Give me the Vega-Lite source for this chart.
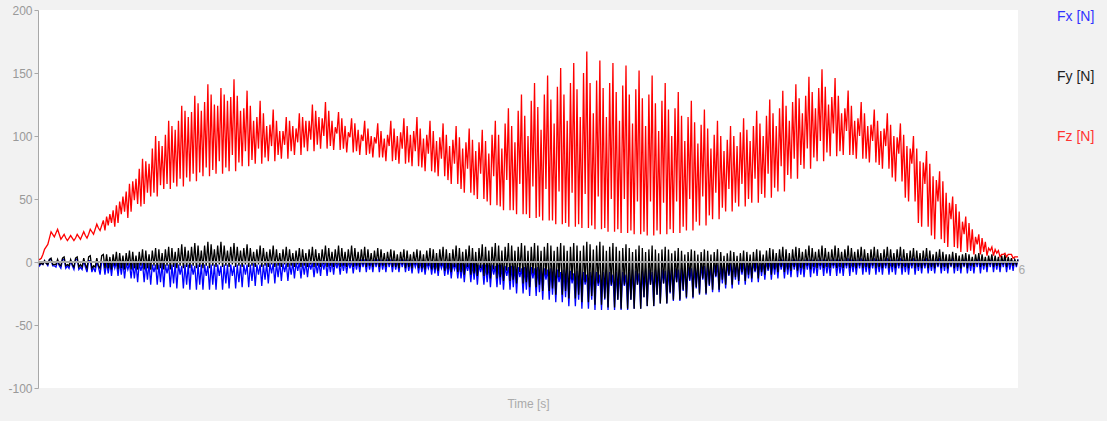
{
"$schema": "https://vega.github.io/schema/vega-lite/v6.json",
"width": 980, "height": 378,
"autosize": {"type": "none"},
"padding": {"left": 38, "top": 10, "right": 89, "bottom": 33},
"background": "#f2f2f2",
"config": {"view": {"fill": "white", "stroke": null}, "font": "Liberation Sans"},
"data": {"values": [
{"t":0,"fz":2,"fx":0,"fy":0},{"t":0.01,"fz":2,"fx":-3,"fy":-2},{"t":0.02,"fz":3,"fx":-1,"fy":-1},{"t":0.03,"fz":6,"fx":-2,"fy":-2},{"t":0.04,"fz":10,"fx":1,"fy":1},{"t":0.05,"fz":12,"fx":-1,"fy":-1},{"t":0.06,"fz":14,"fx":-3,"fy":-2},{"t":0.07,"fz":19,"fx":2,"fy":2},
{"t":0.08,"fz":24,"fx":2,"fy":3},{"t":0.09,"fz":22,"fx":-3,"fy":-2},{"t":0.1,"fz":20,"fx":-3,"fy":-2},{"t":0.11,"fz":23,"fx":-4,"fy":-2},{"t":0.12,"fz":26,"fx":1,"fy":2},{"t":0.13,"fz":22,"fx":-3,"fy":-2},{"t":0.14,"fz":18,"fx":-5,"fy":-3},{"t":0.15,"fz":20,"fx":2,"fy":3},
{"t":0.16,"fz":22,"fx":2,"fy":4},{"t":0.17,"fz":19,"fx":-5,"fy":-3},{"t":0.18,"fz":17,"fx":-3,"fy":-2},{"t":0.19,"fz":19,"fx":-5,"fy":-3},{"t":0.2,"fz":21,"fx":1,"fy":2},{"t":0.21,"fz":19,"fx":-3,"fy":-2},{"t":0.22,"fz":17,"fx":-6,"fy":-4},{"t":0.23,"fz":19,"fx":2,"fy":3},
{"t":0.24,"fz":22,"fx":2,"fy":4},{"t":0.25,"fz":20,"fx":-6,"fy":-4},{"t":0.26,"fz":18,"fx":-4,"fy":-2},{"t":0.27,"fz":21,"fx":-6,"fy":-4},{"t":0.28,"fz":24,"fx":1,"fy":3},{"t":0.29,"fz":21,"fx":-4,"fy":-2},{"t":0.3,"fz":19,"fx":-8,"fy":-5},{"t":0.31,"fz":22,"fx":1,"fy":4},
{"t":0.32,"fz":26,"fx":1,"fy":5},{"t":0.33,"fz":24,"fx":-8,"fy":-5},{"t":0.34,"fz":22,"fx":-4,"fy":-3},{"t":0.35,"fz":26,"fx":-8,"fy":-4},{"t":0.36,"fz":30,"fx":0,"fy":3},{"t":0.37,"fz":27,"fx":-4,"fy":-3},{"t":0.38,"fz":25,"fx":-10,"fy":-5},{"t":0.39,"fz":29,"fx":0,"fy":5},
{"t":0.4,"fz":33,"fx":0,"fy":6},{"t":0.41,"fz":25,"fx":-10,"fy":-5},{"t":0.42,"fz":36,"fx":0,"fy":6},{"t":0.43,"fz":29,"fx":-9,"fy":-5},{"t":0.44,"fz":38,"fx":0,"fy":4},{"t":0.45,"fz":31,"fx":-11,"fy":-6},{"t":0.46,"fz":41,"fx":0,"fy":6},{"t":0.47,"fz":28,"fx":-5,"fy":-3},
{"t":0.48,"fz":45,"fx":0,"fy":8},{"t":0.49,"fz":31,"fx":-11,"fy":-6},{"t":0.5,"fz":48,"fx":0,"fy":7},{"t":0.51,"fz":38,"fx":-10,"fy":-5},{"t":0.52,"fz":52,"fx":0,"fy":5},{"t":0.53,"fz":40,"fx":-13,"fy":-6},{"t":0.54,"fz":56,"fx":-1,"fy":7},{"t":0.55,"fz":35,"fx":-6,"fy":-3},
{"t":0.56,"fz":62,"fx":-1,"fy":9},{"t":0.57,"fz":40,"fx":-13,"fy":-6},{"t":0.58,"fz":64,"fx":-1,"fy":8},{"t":0.59,"fz":49,"fx":-13,"fy":-5},{"t":0.6,"fz":66,"fx":-1,"fy":5},{"t":0.61,"fz":46,"fx":-16,"fy":-6},{"t":0.62,"fz":74,"fx":-1,"fy":8},{"t":0.63,"fz":44,"fx":-7,"fy":-3},
{"t":0.64,"fz":82,"fx":-1,"fy":10},{"t":0.65,"fz":46,"fx":-16,"fy":-6},{"t":0.66,"fz":80,"fx":-1,"fy":9},{"t":0.67,"fz":55,"fx":-14,"fy":-5},{"t":0.68,"fz":78,"fx":-1,"fy":6},{"t":0.69,"fz":52,"fx":-18,"fy":-6},{"t":0.7,"fz":90,"fx":-2,"fy":9},{"t":0.71,"fz":55,"fx":-8,"fy":-3},
{"t":0.72,"fz":100,"fx":-2,"fy":11},{"t":0.73,"fz":52,"fx":-18,"fy":-6},{"t":0.74,"fz":96,"fx":-2,"fy":10},{"t":0.75,"fz":61,"fx":-16,"fy":-5},{"t":0.76,"fz":92,"fx":-1,"fy":7},{"t":0.77,"fz":58,"fx":-20,"fy":-6},{"t":0.78,"fz":101,"fx":-2,"fy":10},{"t":0.79,"fz":62,"fx":-9,"fy":-3},
{"t":0.8,"fz":112,"fx":-2,"fy":12},{"t":0.81,"fz":58,"fx":-20,"fy":-6},{"t":0.82,"fz":108,"fx":-2,"fy":11},{"t":0.83,"fz":63,"fx":-17,"fy":-4},{"t":0.84,"fz":105,"fx":-1,"fy":8},{"t":0.85,"fz":60,"fx":-21,"fy":-5},{"t":0.86,"fz":112,"fx":-2,"fy":11},{"t":0.87,"fz":66,"fx":-10,"fy":-3},
{"t":0.88,"fz":124,"fx":-3,"fy":14},{"t":0.89,"fz":60,"fx":-21,"fy":-5},{"t":0.9,"fz":120,"fx":-2,"fy":12},{"t":0.91,"fz":67,"fx":-18,"fy":-4},{"t":0.92,"fz":115,"fx":-2,"fy":9},{"t":0.93,"fz":64,"fx":-22,"fy":-5},{"t":0.94,"fz":119,"fx":-2,"fy":12},{"t":0.95,"fz":70,"fx":-10,"fy":-3},
{"t":0.96,"fz":132,"fx":-3,"fy":15},{"t":0.97,"fz":64,"fx":-22,"fy":-5},{"t":0.98,"fz":126,"fx":-2,"fy":13},{"t":0.99,"fz":71,"fx":-18,"fy":-4},{"t":1,"fz":120,"fx":-2,"fy":9},{"t":1.01,"fz":68,"fx":-22,"fy":-5},{"t":1.02,"fz":127,"fx":-2,"fy":13},{"t":1.03,"fz":75,"fx":-11,"fy":-3},
{"t":1.04,"fz":141,"fx":-3,"fy":16},{"t":1.05,"fz":68,"fx":-22,"fy":-5},{"t":1.06,"fz":133,"fx":-2,"fy":14},{"t":1.07,"fz":73,"fx":-18,"fy":-3},{"t":1.08,"fz":125,"fx":-2,"fy":10},{"t":1.09,"fz":70,"fx":-22,"fy":-4},{"t":1.1,"fz":124,"fx":-2,"fy":13},{"t":1.11,"fz":80,"fx":-11,"fy":-2},
{"t":1.12,"fz":138,"fx":-3,"fy":16},{"t":1.13,"fz":70,"fx":-22,"fy":-4},{"t":1.14,"fz":133,"fx":-2,"fy":13},{"t":1.15,"fz":75,"fx":-17,"fy":-3},{"t":1.16,"fz":128,"fx":-2,"fy":9},{"t":1.17,"fz":72,"fx":-21,"fy":-4},{"t":1.18,"fz":131,"fx":-2,"fy":12},{"t":1.19,"fz":85,"fx":-11,"fy":-2},
{"t":1.2,"fz":145,"fx":-3,"fy":15},{"t":1.21,"fz":72,"fx":-21,"fy":-4},{"t":1.22,"fz":132,"fx":-2,"fy":12},{"t":1.23,"fz":79,"fx":-16,"fy":-3},{"t":1.24,"fz":120,"fx":-2,"fy":9},{"t":1.25,"fz":76,"fx":-20,"fy":-4},{"t":1.26,"fz":122,"fx":-2,"fy":11},{"t":1.27,"fz":88,"fx":-10,"fy":-2},
{"t":1.28,"fz":136,"fx":-2,"fy":14},{"t":1.29,"fz":76,"fx":-20,"fy":-4},{"t":1.3,"fz":124,"fx":-2,"fy":11},{"t":1.31,"fz":81,"fx":-15,"fy":-3},{"t":1.32,"fz":112,"fx":-1,"fy":8},{"t":1.33,"fz":78,"fx":-19,"fy":-4},{"t":1.34,"fz":115,"fx":-2,"fy":10},{"t":1.35,"fz":90,"fx":-10,"fy":-2},
{"t":1.36,"fz":128,"fx":-2,"fy":13},{"t":1.37,"fz":78,"fx":-19,"fy":-4},{"t":1.38,"fz":118,"fx":-2,"fy":11},{"t":1.39,"fz":83,"fx":-14,"fy":-3},{"t":1.4,"fz":108,"fx":-1,"fy":8},{"t":1.41,"fz":80,"fx":-17,"fy":-4},{"t":1.42,"fz":109,"fx":-1,"fy":10},{"t":1.43,"fz":92,"fx":-9,"fy":-2},
{"t":1.44,"fz":121,"fx":-1,"fy":13},{"t":1.45,"fz":80,"fx":-17,"fy":-4},{"t":1.46,"fz":112,"fx":-1,"fy":10},{"t":1.47,"fz":85,"fx":-12,"fy":-3},{"t":1.48,"fz":104,"fx":0,"fy":7},{"t":1.49,"fz":82,"fx":-15,"fy":-4},{"t":1.5,"fz":104,"fx":-1,"fy":10},{"t":1.51,"fz":93,"fx":-8,"fy":-2},
{"t":1.52,"fz":115,"fx":-1,"fy":12},{"t":1.53,"fz":82,"fx":-15,"fy":-4},{"t":1.54,"fz":112,"fx":-1,"fy":10},{"t":1.55,"fz":88,"fx":-10,"fy":-3},{"t":1.56,"fz":108,"fx":0,"fy":7},{"t":1.57,"fz":85,"fx":-13,"fy":-4},{"t":1.58,"fz":106,"fx":0,"fy":9},{"t":1.59,"fz":95,"fx":-7,"fy":-2},
{"t":1.6,"fz":118,"fx":0,"fy":11},{"t":1.61,"fz":85,"fx":-13,"fy":-4},{"t":1.62,"fz":115,"fx":0,"fy":10},{"t":1.63,"fz":91,"fx":-10,"fy":-3},{"t":1.64,"fz":112,"fx":0,"fy":7},{"t":1.65,"fz":88,"fx":-12,"fy":-4},{"t":1.66,"fz":112,"fx":0,"fy":10},{"t":1.67,"fz":97,"fx":-6,"fy":-2},
{"t":1.68,"fz":125,"fx":0,"fy":12},{"t":1.69,"fz":88,"fx":-12,"fy":-4},{"t":1.7,"fz":120,"fx":0,"fy":10},{"t":1.71,"fz":93,"fx":-9,"fy":-3},{"t":1.72,"fz":115,"fx":0,"fy":7},{"t":1.73,"fz":90,"fx":-11,"fy":-4},{"t":1.74,"fz":114,"fx":1,"fy":10},{"t":1.75,"fz":100,"fx":-6,"fy":-2},
{"t":1.76,"fz":127,"fx":1,"fy":13},{"t":1.77,"fz":90,"fx":-11,"fy":-4},{"t":1.78,"fz":120,"fx":1,"fy":11},{"t":1.79,"fz":92,"fx":-8,"fy":-3},{"t":1.8,"fz":112,"fx":1,"fy":8},{"t":1.81,"fz":89,"fx":-10,"fy":-4},{"t":1.82,"fz":107,"fx":1,"fy":10},{"t":1.83,"fz":102,"fx":-5,"fy":-2},
{"t":1.84,"fz":119,"fx":1,"fy":13},{"t":1.85,"fz":89,"fx":-10,"fy":-4},{"t":1.86,"fz":114,"fx":1,"fy":11},{"t":1.87,"fz":90,"fx":-7,"fy":-3},{"t":1.88,"fz":108,"fx":1,"fy":8},{"t":1.89,"fz":87,"fx":-9,"fy":-4},{"t":1.9,"fz":103,"fx":1,"fy":10},{"t":1.91,"fz":99,"fx":-5,"fy":-2},
{"t":1.92,"fz":114,"fx":1,"fy":13},{"t":1.93,"fz":87,"fx":-9,"fy":-4},{"t":1.94,"fz":110,"fx":1,"fy":11},{"t":1.95,"fz":88,"fx":-6,"fy":-3},{"t":1.96,"fz":105,"fx":1,"fy":8},{"t":1.97,"fz":85,"fx":-8,"fy":-4},{"t":1.98,"fz":101,"fx":2,"fy":10},{"t":1.99,"fz":96,"fx":-4,"fy":-2},
{"t":2,"fz":112,"fx":2,"fy":12},{"t":2.01,"fz":85,"fx":-8,"fy":-4},{"t":2.02,"fz":106,"fx":2,"fy":10},{"t":2.03,"fz":86,"fx":-6,"fy":-3},{"t":2.04,"fz":100,"fx":1,"fy":7},{"t":2.05,"fz":83,"fx":-8,"fy":-4},{"t":2.06,"fz":99,"fx":2,"fy":9},{"t":2.07,"fz":94,"fx":-4,"fy":-2},
{"t":2.08,"fz":110,"fx":2,"fy":11},{"t":2.09,"fz":83,"fx":-8,"fy":-4},{"t":2.1,"fz":104,"fx":2,"fy":10},{"t":2.11,"fz":83,"fx":-6,"fy":-3},{"t":2.12,"fz":98,"fx":1,"fy":7},{"t":2.13,"fz":80,"fx":-8,"fy":-4},{"t":2.14,"fz":101,"fx":2,"fy":8},{"t":2.15,"fz":92,"fx":-4,"fy":-2},
{"t":2.16,"fz":112,"fx":2,"fy":10},{"t":2.17,"fz":80,"fx":-8,"fy":-4},{"t":2.18,"fz":106,"fx":2,"fy":9},{"t":2.19,"fz":81,"fx":-6,"fy":-4},{"t":2.2,"fz":100,"fx":1,"fy":6},{"t":2.21,"fz":78,"fx":-8,"fy":-5},{"t":2.22,"fz":103,"fx":2,"fy":8},{"t":2.23,"fz":90,"fx":-4,"fy":-2},
{"t":2.24,"fz":114,"fx":2,"fy":10},{"t":2.25,"fz":78,"fx":-8,"fy":-5},{"t":2.26,"fz":108,"fx":2,"fy":9},{"t":2.27,"fz":79,"fx":-7,"fy":-4},{"t":2.28,"fz":101,"fx":1,"fy":6},{"t":2.29,"fz":76,"fx":-9,"fy":-5},{"t":2.3,"fz":104,"fx":1,"fy":8},{"t":2.31,"fz":88,"fx":-4,"fy":-2},
{"t":2.32,"fz":115,"fx":1,"fy":10},{"t":2.33,"fz":76,"fx":-9,"fy":-5},{"t":2.34,"fz":106,"fx":1,"fy":9},{"t":2.35,"fz":75,"fx":-8,"fy":-5},{"t":2.36,"fz":98,"fx":0,"fy":6},{"t":2.37,"fz":72,"fx":-10,"fy":-6},{"t":2.38,"fz":101,"fx":0,"fy":9},{"t":2.39,"fz":86,"fx":-5,"fy":-3},
{"t":2.4,"fz":112,"fx":0,"fy":11},{"t":2.41,"fz":72,"fx":-10,"fy":-6},{"t":2.42,"fz":104,"fx":0,"fy":10},{"t":2.43,"fz":71,"fx":-9,"fy":-6},{"t":2.44,"fz":96,"fx":0,"fy":7},{"t":2.45,"fz":68,"fx":-11,"fy":-7},{"t":2.46,"fz":99,"fx":0,"fy":10},{"t":2.47,"fz":82,"fx":-5,"fy":-3},
{"t":2.48,"fz":110,"fx":0,"fy":12},{"t":2.49,"fz":68,"fx":-11,"fy":-7},{"t":2.5,"fz":101,"fx":0,"fy":10},{"t":2.51,"fz":65,"fx":-10,"fy":-6},{"t":2.52,"fz":92,"fx":0,"fy":7},{"t":2.53,"fz":62,"fx":-13,"fy":-8},{"t":2.54,"fz":97,"fx":-1,"fy":10},{"t":2.55,"fz":78,"fx":-6,"fy":-4},
{"t":2.56,"fz":108,"fx":-1,"fy":13},{"t":2.57,"fz":62,"fx":-13,"fy":-8},{"t":2.58,"fz":99,"fx":-1,"fy":11},{"t":2.59,"fz":58,"fx":-13,"fy":-8},{"t":2.6,"fz":90,"fx":-1,"fy":8},{"t":2.61,"fz":55,"fx":-16,"fy":-10},{"t":2.62,"fz":95,"fx":-1,"fy":10},{"t":2.63,"fz":74,"fx":-7,"fy":-4},
{"t":2.64,"fz":106,"fx":-1,"fy":13},{"t":2.65,"fz":55,"fx":-16,"fy":-10},{"t":2.66,"fz":97,"fx":-1,"fy":11},{"t":2.67,"fz":53,"fx":-14,"fy":-9},{"t":2.68,"fz":88,"fx":-1,"fy":8},{"t":2.69,"fz":50,"fx":-18,"fy":-11},{"t":2.7,"fz":95,"fx":-2,"fy":11},{"t":2.71,"fz":70,"fx":-8,"fy":-5},
{"t":2.72,"fz":105,"fx":-2,"fy":14},{"t":2.73,"fz":50,"fx":-18,"fy":-11},{"t":2.74,"fz":96,"fx":-2,"fy":12},{"t":2.75,"fz":48,"fx":-16,"fy":-10},{"t":2.76,"fz":86,"fx":-2,"fy":9},{"t":2.77,"fz":45,"fx":-20,"fy":-13},{"t":2.78,"fz":101,"fx":-2,"fy":12},{"t":2.79,"fz":68,"fx":-10,"fy":-6},
{"t":2.8,"fz":112,"fx":-3,"fy":15},{"t":2.81,"fz":45,"fx":-20,"fy":-13},{"t":2.82,"fz":101,"fx":-2,"fy":13},{"t":2.83,"fz":44,"fx":-18,"fy":-12},{"t":2.84,"fz":90,"fx":-2,"fy":9},{"t":2.85,"fz":41,"fx":-22,"fy":-15},{"t":2.86,"fz":110,"fx":-3,"fy":12},{"t":2.87,"fz":65,"fx":-11,"fy":-7},
{"t":2.88,"fz":122,"fx":-4,"fy":15},{"t":2.89,"fz":41,"fx":-22,"fy":-15},{"t":2.9,"fz":108,"fx":-3,"fy":13},{"t":2.91,"fz":41,"fx":-20,"fy":-14},{"t":2.92,"fz":95,"fx":-3,"fy":9},{"t":2.93,"fz":38,"fx":-25,"fy":-17},{"t":2.94,"fz":120,"fx":-4,"fy":12},{"t":2.95,"fz":62,"fx":-12,"fy":-8},
{"t":2.96,"fz":133,"fx":-5,"fy":15},{"t":2.97,"fz":38,"fx":-25,"fy":-17},{"t":2.98,"fz":116,"fx":-4,"fy":13},{"t":2.99,"fz":38,"fx":-22,"fy":-16},{"t":3,"fz":100,"fx":-3,"fy":9},{"t":3.01,"fz":35,"fx":-27,"fy":-20},{"t":3.02,"fz":128,"fx":-4,"fy":12},{"t":3.03,"fz":60,"fx":-13,"fy":-9},
{"t":3.04,"fz":142,"fx":-5,"fy":15},{"t":3.05,"fz":35,"fx":-27,"fy":-20},{"t":3.06,"fz":123,"fx":-4,"fy":13},{"t":3.07,"fz":36,"fx":-24,"fy":-18},{"t":3.08,"fz":105,"fx":-4,"fy":9},{"t":3.09,"fz":33,"fx":-30,"fy":-23},{"t":3.1,"fz":133,"fx":-5,"fy":12},{"t":3.11,"fz":58,"fx":-14,"fy":-10},
{"t":3.12,"fz":148,"fx":-6,"fy":15},{"t":3.13,"fz":33,"fx":-30,"fy":-23},{"t":3.14,"fz":129,"fx":-5,"fy":13},{"t":3.15,"fz":33,"fx":-26,"fy":-21},{"t":3.16,"fz":110,"fx":-4,"fy":9},{"t":3.17,"fz":30,"fx":-32,"fy":-26},{"t":3.18,"fz":139,"fx":-6,"fy":12},{"t":3.19,"fz":56,"fx":-16,"fy":-12},
{"t":3.2,"fz":154,"fx":-8,"fy":15},{"t":3.21,"fz":30,"fx":-32,"fy":-26},{"t":3.22,"fz":133,"fx":-6,"fy":13},{"t":3.23,"fz":31,"fx":-28,"fy":-23},{"t":3.24,"fz":112,"fx":-5,"fy":9},{"t":3.25,"fz":28,"fx":-35,"fy":-29},{"t":3.26,"fz":142,"fx":-7,"fy":12},{"t":3.27,"fz":55,"fx":-17,"fy":-14},
{"t":3.28,"fz":158,"fx":-9,"fy":15},{"t":3.29,"fz":28,"fx":-35,"fy":-29},{"t":3.3,"fz":137,"fx":-7,"fy":13},{"t":3.31,"fz":30,"fx":-30,"fy":-26},{"t":3.32,"fz":115,"fx":-6,"fy":9},{"t":3.33,"fz":27,"fx":-37,"fy":-32},{"t":3.34,"fz":150,"fx":-8,"fy":13},{"t":3.35,"fz":54,"fx":-18,"fy":-16},
{"t":3.36,"fz":167,"fx":-10,"fy":16},{"t":3.37,"fz":27,"fx":-37,"fy":-32},{"t":3.38,"fz":142,"fx":-8,"fy":14},{"t":3.39,"fz":29,"fx":-30,"fy":-27},{"t":3.4,"fz":118,"fx":-6,"fy":10},{"t":3.41,"fz":26,"fx":-38,"fy":-34},{"t":3.42,"fz":144,"fx":-8,"fy":13},{"t":3.43,"fz":52,"fx":-19,"fy":-17},
{"t":3.44,"fz":160,"fx":-10,"fy":16},{"t":3.45,"fz":26,"fx":-38,"fy":-34},{"t":3.46,"fz":138,"fx":-8,"fy":13},{"t":3.47,"fz":27,"fx":-30,"fy":-29},{"t":3.48,"fz":115,"fx":-6,"fy":9},{"t":3.49,"fz":24,"fx":-38,"fy":-36},{"t":3.5,"fz":142,"fx":-8,"fy":12},{"t":3.51,"fz":50,"fx":-19,"fy":-18},
{"t":3.52,"fz":158,"fx":-10,"fy":15},{"t":3.53,"fz":24,"fx":-38,"fy":-36},{"t":3.54,"fz":135,"fx":-8,"fy":12},{"t":3.55,"fz":26,"fx":-30,"fy":-30},{"t":3.56,"fz":112,"fx":-6,"fy":9},{"t":3.57,"fz":23,"fx":-38,"fy":-37},{"t":3.58,"fz":140,"fx":-8,"fy":11},{"t":3.59,"fz":50,"fx":-19,"fy":-18},
{"t":3.6,"fz":156,"fx":-10,"fy":14},{"t":3.61,"fz":23,"fx":-38,"fy":-37},{"t":3.62,"fz":133,"fx":-8,"fy":11},{"t":3.63,"fz":25,"fx":-30,"fy":-30},{"t":3.64,"fz":110,"fx":-6,"fy":8},{"t":3.65,"fz":22,"fx":-37,"fy":-37},{"t":3.66,"fz":137,"fx":-7,"fy":10},{"t":3.67,"fz":48,"fx":-18,"fy":-18},
{"t":3.68,"fz":152,"fx":-9,"fy":13},{"t":3.69,"fz":22,"fx":-37,"fy":-37},{"t":3.7,"fz":130,"fx":-7,"fy":11},{"t":3.71,"fz":24,"fx":-28,"fy":-28},{"t":3.72,"fz":108,"fx":-5,"fy":8},{"t":3.73,"fz":21,"fx":-35,"fy":-35},{"t":3.74,"fz":133,"fx":-6,"fy":10},{"t":3.75,"fz":48,"fx":-18,"fy":-18},
{"t":3.76,"fz":148,"fx":-8,"fy":13},{"t":3.77,"fz":21,"fx":-35,"fy":-35},{"t":3.78,"fz":126,"fx":-6,"fy":10},{"t":3.79,"fz":25,"fx":-26,"fy":-26},{"t":3.8,"fz":104,"fx":-5,"fy":7},{"t":3.81,"fz":22,"fx":-33,"fy":-33},{"t":3.82,"fz":128,"fx":-6,"fy":10},{"t":3.83,"fz":47,"fx":-17,"fy":-17},
{"t":3.84,"fz":142,"fx":-7,"fy":12},{"t":3.85,"fz":22,"fx":-33,"fy":-33},{"t":3.86,"fz":121,"fx":-6,"fy":10},{"t":3.87,"fz":26,"fx":-25,"fy":-24},{"t":3.88,"fz":100,"fx":-4,"fy":7},{"t":3.89,"fz":23,"fx":-31,"fy":-30},{"t":3.9,"fz":122,"fx":-5,"fy":9},{"t":3.91,"fz":48,"fx":-16,"fy":-16},
{"t":3.92,"fz":135,"fx":-6,"fy":11},{"t":3.93,"fz":23,"fx":-31,"fy":-30},{"t":3.94,"fz":116,"fx":-5,"fy":9},{"t":3.95,"fz":28,"fx":-23,"fy":-22},{"t":3.96,"fz":96,"fx":-3,"fy":6},{"t":3.97,"fz":25,"fx":-29,"fy":-28},{"t":3.98,"fz":115,"fx":-4,"fy":8},{"t":3.99,"fz":50,"fx":-15,"fy":-14},
{"t":4,"fz":128,"fx":-5,"fy":10},{"t":4.01,"fz":25,"fx":-29,"fy":-28},{"t":4.02,"fz":111,"fx":-4,"fy":9},{"t":4.03,"fz":32,"fx":-21,"fy":-20},{"t":4.04,"fz":94,"fx":-3,"fy":6},{"t":4.05,"fz":29,"fx":-26,"fy":-25},{"t":4.06,"fz":109,"fx":-2,"fy":8},{"t":4.07,"fz":52,"fx":-14,"fy":-13},
{"t":4.08,"fz":121,"fx":-3,"fy":10},{"t":4.09,"fz":29,"fx":-26,"fy":-25},{"t":4.1,"fz":106,"fx":-2,"fy":9},{"t":4.11,"fz":37,"fx":-19,"fy":-18},{"t":4.12,"fz":90,"fx":-2,"fy":6},{"t":4.13,"fz":34,"fx":-24,"fy":-22},{"t":4.14,"fz":101,"fx":-2,"fy":8},{"t":4.15,"fz":55,"fx":-12,"fy":-11},
{"t":4.16,"fz":112,"fx":-2,"fy":10},{"t":4.17,"fz":34,"fx":-24,"fy":-22},{"t":4.18,"fz":100,"fx":-2,"fy":8},{"t":4.19,"fz":43,"fx":-17,"fy":-14},{"t":4.2,"fz":88,"fx":-1,"fy":5},{"t":4.21,"fz":40,"fx":-21,"fy":-18},{"t":4.22,"fz":97,"fx":-1,"fy":7},{"t":4.23,"fz":58,"fx":-11,"fy":-10},
{"t":4.24,"fz":108,"fx":-1,"fy":9},{"t":4.25,"fz":40,"fx":-21,"fy":-18},{"t":4.26,"fz":100,"fx":-1,"fy":8},{"t":4.27,"fz":47,"fx":-14,"fy":-12},{"t":4.28,"fz":92,"fx":0,"fy":5},{"t":4.29,"fz":44,"fx":-18,"fy":-15},{"t":4.3,"fz":103,"fx":0,"fy":7},{"t":4.31,"fz":62,"fx":-10,"fy":-8},
{"t":4.32,"fz":114,"fx":0,"fy":9},{"t":4.33,"fz":44,"fx":-18,"fy":-15},{"t":4.34,"fz":105,"fx":0,"fy":8},{"t":4.35,"fz":50,"fx":-13,"fy":-10},{"t":4.36,"fz":96,"fx":0,"fy":6},{"t":4.37,"fz":47,"fx":-16,"fy":-13},{"t":4.38,"fz":108,"fx":0,"fy":8},{"t":4.39,"fz":66,"fx":-8,"fy":-7},
{"t":4.4,"fz":120,"fx":0,"fy":10},{"t":4.41,"fz":47,"fx":-16,"fy":-13},{"t":4.42,"fz":110,"fx":0,"fy":9},{"t":4.43,"fz":54,"fx":-11,"fy":-8},{"t":4.44,"fz":100,"fx":0,"fy":6},{"t":4.45,"fz":51,"fx":-14,"fy":-10},{"t":4.46,"fz":116,"fx":1,"fy":9},{"t":4.47,"fz":70,"fx":-7,"fy":-6},
{"t":4.48,"fz":129,"fx":1,"fy":11},{"t":4.49,"fz":51,"fx":-14,"fy":-10},{"t":4.5,"fz":118,"fx":1,"fy":10},{"t":4.51,"fz":59,"fx":-10,"fy":-6},{"t":4.52,"fz":108,"fx":1,"fy":7},{"t":4.53,"fz":56,"fx":-13,"fy":-8},{"t":4.54,"fz":122,"fx":2,"fy":10},{"t":4.55,"fz":76,"fx":-6,"fy":-4},
{"t":4.56,"fz":136,"fx":2,"fy":12},{"t":4.57,"fz":56,"fx":-13,"fy":-8},{"t":4.58,"fz":124,"fx":2,"fy":10},{"t":4.59,"fz":69,"fx":-10,"fy":-6},{"t":4.6,"fz":112,"fx":1,"fy":7},{"t":4.61,"fz":66,"fx":-12,"fy":-7},{"t":4.62,"fz":127,"fx":2,"fy":10},{"t":4.63,"fz":82,"fx":-6,"fy":-4},
{"t":4.64,"fz":141,"fx":2,"fy":12},{"t":4.65,"fz":66,"fx":-12,"fy":-7},{"t":4.66,"fz":130,"fx":2,"fy":11},{"t":4.67,"fz":77,"fx":-10,"fy":-5},{"t":4.68,"fz":118,"fx":1,"fy":8},{"t":4.69,"fz":74,"fx":-12,"fy":-6},{"t":4.7,"fz":132,"fx":2,"fy":10},{"t":4.71,"fz":90,"fx":-6,"fy":-3},
{"t":4.72,"fz":147,"fx":2,"fy":13},{"t":4.73,"fz":74,"fx":-12,"fy":-6},{"t":4.74,"fz":135,"fx":2,"fy":11},{"t":4.75,"fz":83,"fx":-9,"fy":-4},{"t":4.76,"fz":122,"fx":1,"fy":8},{"t":4.77,"fz":80,"fx":-11,"fy":-5},{"t":4.78,"fz":138,"fx":2,"fy":10},{"t":4.79,"fz":96,"fx":-6,"fy":-3},
{"t":4.8,"fz":153,"fx":2,"fy":13},{"t":4.81,"fz":80,"fx":-11,"fy":-5},{"t":4.82,"fz":139,"fx":2,"fy":11},{"t":4.83,"fz":87,"fx":-9,"fy":-4},{"t":4.84,"fz":125,"fx":1,"fy":8},{"t":4.85,"fz":84,"fx":-11,"fy":-5},{"t":4.86,"fz":131,"fx":2,"fy":10},{"t":4.87,"fz":102,"fx":-5,"fy":-3},
{"t":4.88,"fz":146,"fx":2,"fy":13},{"t":4.89,"fz":84,"fx":-11,"fy":-5},{"t":4.9,"fz":132,"fx":2,"fy":11},{"t":4.91,"fz":88,"fx":-9,"fy":-4},{"t":4.92,"fz":118,"fx":1,"fy":8},{"t":4.93,"fz":85,"fx":-11,"fy":-5},{"t":4.94,"fz":122,"fx":2,"fy":10},{"t":4.95,"fz":104,"fx":-5,"fy":-3},
{"t":4.96,"fz":136,"fx":3,"fy":13},{"t":4.97,"fz":85,"fx":-11,"fy":-5},{"t":4.98,"fz":124,"fx":2,"fy":11},{"t":4.99,"fz":85,"fx":-8,"fy":-4},{"t":5,"fz":112,"fx":2,"fy":8},{"t":5.01,"fz":82,"fx":-10,"fy":-5},{"t":5.02,"fz":114,"fx":2,"fy":10},{"t":5.03,"fz":100,"fx":-5,"fy":-3},
{"t":5.04,"fz":127,"fx":3,"fy":12},{"t":5.05,"fz":82,"fx":-10,"fy":-5},{"t":5.06,"fz":118,"fx":2,"fy":10},{"t":5.07,"fz":82,"fx":-8,"fy":-4},{"t":5.08,"fz":108,"fx":2,"fy":7},{"t":5.09,"fz":79,"fx":-10,"fy":-5},{"t":5.1,"fz":109,"fx":2,"fy":10},{"t":5.11,"fz":96,"fx":-5,"fy":-3},
{"t":5.12,"fz":121,"fx":3,"fy":12},{"t":5.13,"fz":79,"fx":-10,"fy":-5},{"t":5.14,"fz":112,"fx":2,"fy":10},{"t":5.15,"fz":77,"fx":-8,"fy":-4},{"t":5.16,"fz":104,"fx":2,"fy":7},{"t":5.17,"fz":74,"fx":-10,"fy":-5},{"t":5.18,"fz":106,"fx":2,"fy":10},{"t":5.19,"fz":92,"fx":-5,"fy":-3},
{"t":5.2,"fz":118,"fx":3,"fy":12},{"t":5.21,"fz":74,"fx":-10,"fy":-5},{"t":5.22,"fz":109,"fx":2,"fy":10},{"t":5.23,"fz":67,"fx":-8,"fy":-4},{"t":5.24,"fz":100,"fx":2,"fy":7},{"t":5.25,"fz":64,"fx":-10,"fy":-5},{"t":5.26,"fz":99,"fx":2,"fy":10},{"t":5.27,"fz":86,"fx":-5,"fy":-3},
{"t":5.28,"fz":110,"fx":3,"fy":12},{"t":5.29,"fz":64,"fx":-10,"fy":-5},{"t":5.3,"fz":101,"fx":2,"fy":10},{"t":5.31,"fz":51,"fx":-8,"fy":-4},{"t":5.32,"fz":92,"fx":2,"fy":7},{"t":5.33,"fz":48,"fx":-10,"fy":-5},{"t":5.34,"fz":90,"fx":2,"fy":9},{"t":5.35,"fz":78,"fx":-5,"fy":-3},
{"t":5.36,"fz":100,"fx":3,"fy":11},{"t":5.37,"fz":48,"fx":-10,"fy":-5},{"t":5.38,"fz":90,"fx":2,"fy":9},{"t":5.39,"fz":31,"fx":-7,"fy":-4},{"t":5.4,"fz":80,"fx":2,"fy":7},{"t":5.41,"fz":28,"fx":-9,"fy":-5},{"t":5.42,"fz":79,"fx":2,"fy":9},{"t":5.43,"fz":62,"fx":-5,"fy":-3},
{"t":5.44,"fz":88,"fx":3,"fy":11},{"t":5.45,"fz":28,"fx":-9,"fy":-5},{"t":5.46,"fz":78,"fx":2,"fy":9},{"t":5.47,"fz":21,"fx":-7,"fy":-4},{"t":5.48,"fz":68,"fx":2,"fy":6},{"t":5.49,"fz":18,"fx":-9,"fy":-5},{"t":5.5,"fz":65,"fx":2,"fy":8},{"t":5.51,"fz":48,"fx":-4,"fy":-3},
{"t":5.52,"fz":72,"fx":3,"fy":10},{"t":5.53,"fz":18,"fx":-9,"fy":-5},{"t":5.54,"fz":64,"fx":2,"fy":8},{"t":5.55,"fz":15,"fx":-7,"fy":-4},{"t":5.56,"fz":55,"fx":2,"fy":6},{"t":5.57,"fz":12,"fx":-9,"fy":-5},{"t":5.58,"fz":47,"fx":2,"fy":6},{"t":5.59,"fz":34,"fx":-4,"fy":-3},
{"t":5.6,"fz":52,"fx":3,"fy":8},{"t":5.61,"fz":12,"fx":-9,"fy":-5},{"t":5.62,"fz":46,"fx":2,"fy":7},{"t":5.63,"fz":11,"fx":-7,"fy":-4},{"t":5.64,"fz":40,"fx":2,"fy":5},{"t":5.65,"fz":8,"fx":-9,"fy":-5},{"t":5.66,"fz":32,"fx":2,"fy":6},{"t":5.67,"fz":22,"fx":-4,"fy":-3},
{"t":5.68,"fz":36,"fx":3,"fy":7},{"t":5.69,"fz":8,"fx":-9,"fy":-5},{"t":5.7,"fz":31,"fx":2,"fy":6},{"t":5.71,"fz":9,"fx":-7,"fy":-3},{"t":5.72,"fz":26,"fx":2,"fy":4},{"t":5.73,"fz":6,"fx":-9,"fy":-4},{"t":5.74,"fz":20,"fx":2,"fy":6},{"t":5.75,"fz":14,"fx":-4,"fy":-2},
{"t":5.76,"fz":22,"fx":3,"fy":7},{"t":5.77,"fz":6,"fx":-9,"fy":-4},{"t":5.78,"fz":19,"fx":2,"fy":6},{"t":5.79,"fz":8,"fx":-6,"fy":-3},{"t":5.8,"fz":16,"fx":2,"fy":4},{"t":5.81,"fz":5,"fx":-8,"fy":-4},{"t":5.82,"fz":11,"fx":2,"fy":5},{"t":5.83,"fz":9,"fx":-4,"fy":-2},
{"t":5.84,"fz":12,"fx":3,"fy":6},{"t":5.85,"fz":5,"fx":-8,"fy":-4},{"t":5.86,"fz":10,"fx":2,"fy":5},{"t":5.87,"fz":7,"fx":-6,"fy":-3},{"t":5.88,"fz":9,"fx":2,"fy":4},{"t":5.89,"fz":4,"fx":-8,"fy":-4},{"t":5.9,"fz":6,"fx":2,"fy":5},{"t":5.91,"fz":6,"fx":-4,"fy":-2},
{"t":5.92,"fz":7,"fx":3,"fy":6},{"t":5.93,"fz":4,"fx":-8,"fy":-4},{"t":5.94,"fz":6,"fx":2,"fy":4},{"t":5.95,"fz":6,"fx":-6,"fy":-2},{"t":5.96,"fz":6,"fx":2,"fy":3},{"t":5.97,"fz":3,"fx":-7,"fy":-3},{"t":5.98,"fz":4,"fx":2,"fy":2},{"t":5.99,"fz":4,"fx":-4,"fy":-2},
{"t":6,"fz":4,"fx":2,"fy":2}
]},
"layer": [
{
"transform": [{"fold": ["fx", "fy", "fz"], "as": ["s", "v"]}],
"mark": {"type": "line", "strokeWidth": 1.3},
"encoding": {
"x": {"field": "t", "type": "quantitative", "scale": {"domain": [0, 6], "nice": false},
 "axis": {"title": "Time [s]", "offset": -126, "values": [6], "domain": false, "ticks": false, "grid": false,
  "labelColor": "#aaaaaa", "labelFontSize": 12, "labelAlign": "left", "labelPadding": 2,
  "titleColor": "#aaaaaa", "titleFontSize": 12, "titleFontWeight": "normal", "titlePadding": 123, "zindex": 0}},
"y": {"field": "v", "type": "quantitative", "scale": {"domain": [-100, 200], "nice": false},
 "axis": {"title": null, "values": [-100, -75, -50, -25, 0, 25, 50, 75, 100, 125, 150, 175, 200],
  "labelExpr": "datum.value % 50 === 0 ? '' + datum.value : ''", "grid": false,
  "domainColor": "#a8a8a8", "tickColor": "#a8a8a8", "tickSize": 4, "labelColor": "#999999", "labelFontSize": 12, "labelPadding": 2, "zindex": 1}},
"color": {"field": "s", "type": "nominal", "scale": {"domain": ["fx", "fy", "fz"], "range": ["#0000ff", "#000000", "#ff0000"]},
 "legend": {"title": null, "orient": "none", "legendX": 1005, "legendY": 0, "padding": 0,
  "symbolSize": 0, "symbolStrokeWidth": 0, "symbolOpacity": 0, "labelOffset": 0, "labelFontSize": 14, "rowPadding": 46,
  "labelExpr": "datum.value == 'fx' ? 'Fx [N]' : datum.value == 'fy' ? 'Fy [N]' : 'Fz [N]'",
  "labelColor": {"expr": "datum.value == 'fx' ? '#3333ff' : datum.value == 'fz' ? '#ff3333' : '#222222'"}}}
}
},
{"mark": {"type": "rule", "color": "#a8a8a8", "strokeWidth": 1}, "encoding": {"y": {"datum": 0}}}
]
}
